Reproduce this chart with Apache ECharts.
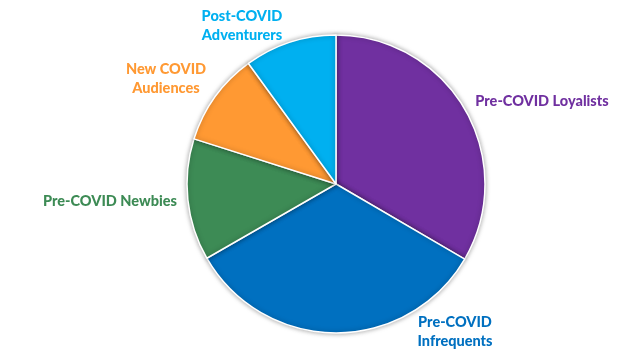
<!DOCTYPE html>
<html>
<head>
<meta charset="utf-8">
<script src="https://cdn.jsdelivr.net/npm/echarts@6/dist/echarts.min.js"></script>
<style>
html,body{margin:0;padding:0;background:#fff;}
#chart{width:628px;height:362px;}
</style>
</head>
<body>
<div id="chart"></div>
<script>
var categories = ['Pre-COVID Loyalists', 'Pre-COVID Infrequents', 'Pre-COVID Newbies', 'New COVID Audiences', 'Post-COVID Adventurers'];
var labelTexts = ['Pre-COVID Loyalists', 'Pre-COVID\nInfrequents', 'Pre-COVID Newbies', 'New COVID\nAudiences', 'Post-COVID\nAdventurers'];
var values = [33.4, 33.3, 13.2, 10.1, 10.0];
var colors = ['#7030A0', '#0070C0', '#3D8B55', '#FF9933', '#00B0F0'];
var labelPos = [[542, 101], [455, 332], [110, 201], [166, 79], [242, 26]];

var chart = echarts.init(document.getElementById('chart'), null, {renderer: 'canvas'});
var data = categories.map(function (c, i) {
  return {
    name: c,
    value: values[i],
    itemStyle: {color: colors[i]},
    label: {color: colors[i], formatter: labelTexts[i]}
  };
});
chart.setOption({
  animation: false,
  series: [{
    type: 'pie',
    center: [336, 184],
    radius: 149,
    startAngle: 90,
    clockwise: true,
    data: data,
    itemStyle: {
      borderColor: '#ffffff',
      borderWidth: 1.5,
      shadowBlur: 5,
      shadowColor: 'rgba(0,0,0,0.35)'
    },
    label: {
      show: true,
      position: 'outside',
      fontFamily: 'Lato',
      fontWeight: 900,
      fontSize: 14.5,
      lineHeight: 19,
      align: 'center',
      overflow: 'none',
      textBorderColor: 'transparent'
    },
    labelLine: {show: false},
    labelLayout: function (p) {
      var pos = labelPos[p.dataIndex];
      return {x: pos[0], y: pos[1], align: 'center', verticalAlign: 'middle'};
    },
    emphasis: {disabled: true}
  }]
});
</script>
</body>
</html>
